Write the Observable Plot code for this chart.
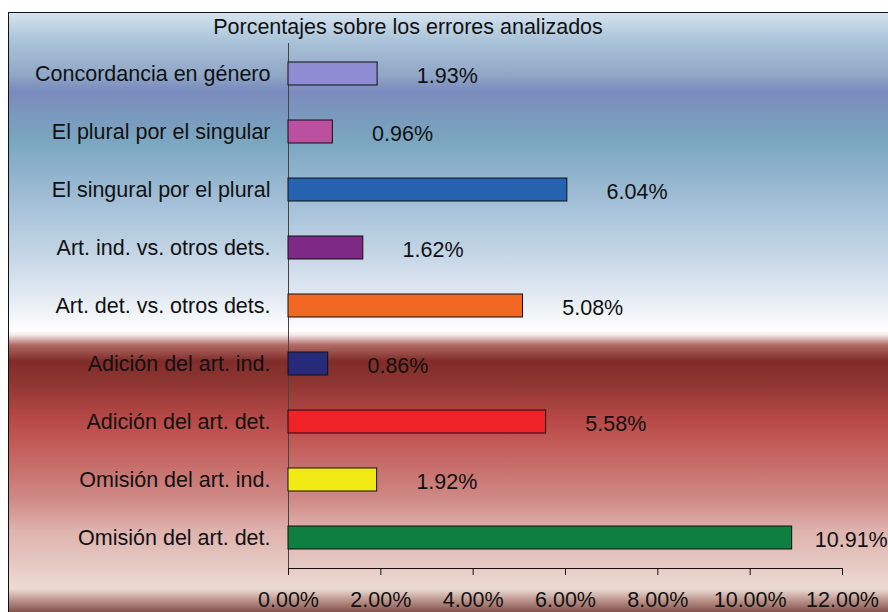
<!DOCTYPE html>
<html>
<head>
<meta charset="utf-8">
<script src="https://cdn.jsdelivr.net/npm/d3@7"></script>
<script src="https://cdn.jsdelivr.net/npm/@observablehq/plot@0.6"></script>
<style>
  html, body { margin: 0; padding: 0; background: #fff; overflow: hidden; width: 888px; height: 612px; }
  #bg {
    position: absolute; left: 8px; top: 12px; width: 900px; height: 620px;
    border: 1.5px solid #111; box-sizing: border-box;
    background: linear-gradient(to bottom,
      #d5e3ef 0px, #aac3d8 28px, #8fa6c6 63px, #7a8abd 78px, #7a96bd 98px,
      #7aa6c0 128px, #8fb2cc 158px, #a8c3da 198px, #c9d9e8 248px, #e6edf4 288px,
      #ffffff 318px, #f4e9e9 322px, #b06a64 332px, #802c29 348px, #8d3531 368px,
      #b84a48 408px, #c25a57 430px, #d08c88 488px, #dfb3ae 518px, #e5c6c0 548px,
      #ecd6d0 568px, #eddad4 576px, #b89088 588px, #7d4d47 600px);
  }
  #title { position: absolute; left: 0; width: 816px; top: 15px; text-align: center;
    font: 21.5px "Liberation Sans", Arial, sans-serif; color: #111; }
  #chart { position: absolute; left: 0; top: 0; }
</style>
</head>
<body>
<div id="bg"></div>
<div id="chart"></div>
<div id="title">Porcentajes sobre los errores analizados</div>
<script>
const categories = [
  "Concordancia en género",
  "El plural por el singular",
  "El singural por el plural",
  "Art. ind. vs. otros dets.",
  "Art. det. vs. otros dets.",
  "Adición del art. ind.",
  "Adición del art. det.",
  "Omisión del art. ind.",
  "Omisión del art. det."
];
const values = [1.93, 0.96, 6.04, 1.62, 5.08, 0.86, 5.58, 1.92, 10.91];
const colors = ["#8e8cd2", "#bb50a0", "#2563b0", "#7e2a84", "#f26722", "#262a78", "#ee2227", "#f1ea14", "#0e7f41"];
const xTicks = [0, 2, 4, 6, 8, 10, 12];

const data = categories.map((c, i) => ({category: c, value: values[i], color: colors[i]}));

const chart = Plot.plot({
  width: 888,
  height: 612,
  marginLeft: 288,
  marginRight: 46,
  marginTop: 43,
  marginBottom: 44,
  style: {background: "none", fontFamily: "Liberation Sans, Arial, sans-serif", fontSize: "21.5px", color: "#111"},
  x: {domain: [0, 12], ticks: xTicks, tickFormat: d => d.toFixed(2) + "%", tickSize: 7, tickPadding: 16, label: null, line: true},
  y: {domain: categories, paddingInner: 0.6, paddingOuter: 0.3, tickSize: 0, tickPadding: 18, label: null},
  marks: [
    Plot.ruleX([0], {stroke: "#444", strokeWidth: 1}),
    Plot.barX(data, {x: "value", y: "category", fill: "color", stroke: "#111", strokeWidth: 1}),
    Plot.text(data, {x: d => Math.min(d.value + 0.85, 11.4), y: "category", text: d => d.value.toFixed(2) + "%", textAnchor: "start", dy: 2, fontSize: 21.5, fill: "#111"})
  ]
});
document.getElementById("chart").appendChild(chart);
</script>
</body>
</html>
